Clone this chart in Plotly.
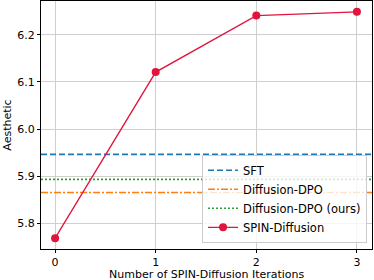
import plotly.graph_objects as go

iters = [0, 1, 2, 3]
spin = [5.768, 6.121, 6.241, 6.249]
sft = 5.946
dpo = 5.865
dpo_ours = 5.893
xticks = [0, 1, 2, 3]
yticks = [5.8, 5.9, 6.0, 6.1, 6.2]

xr = [-0.14, 3.15]
fig = go.Figure()
fig.add_trace(go.Scatter(x=xr, y=[sft, sft], mode="lines", name="SFT",
                         line=dict(color="#1f77b4", width=1.6, dash="6px,3px")))
fig.add_trace(go.Scatter(x=xr, y=[dpo, dpo], mode="lines", name="Diffusion-DPO",
                         line=dict(color="#ff7f0e", width=1.6, dash="7px,2px,2px,2px")))
fig.add_trace(go.Scatter(x=xr, y=[dpo_ours, dpo_ours], mode="lines", name="Diffusion-DPO (ours)",
                         line=dict(color="#2ca02c", width=1.6, dash="2px,2px")))
fig.add_trace(go.Scatter(x=iters, y=spin, mode="lines+markers", name="SPIN-Diffusion",
                         line=dict(color="#e0143c", width=1.3),
                         marker=dict(color="#e0143c", size=8)))

fig.update_layout(
    width=374, height=280,
    margin=dict(l=41, r=2, t=1, b=31, autoexpand=False),
    paper_bgcolor="white", plot_bgcolor="white",
    font=dict(family="DejaVu Sans", size=11, color="black"),
    showlegend=True,
    legend=dict(x=0.985, y=0.025, xanchor="right", yanchor="bottom",
                bgcolor="rgba(255,255,255,0.8)", bordercolor="#cccccc", borderwidth=1,
                font=dict(size=11.5), tracegroupgap=0, itemwidth=30),
    annotations=[dict(text="Number of SPIN-Diffusion Iterations", xref="paper", yref="paper",
                      x=0.5, y=-0.101, xanchor="center", yanchor="middle", showarrow=False,
                      font=dict(size=11))],
)
fig.update_xaxes(range=xr, tickvals=xticks, showgrid=True, gridcolor="#cfcfcf", gridwidth=1,
                 showline=True, linecolor="black", linewidth=1, mirror=True,
                 ticks="outside", ticklen=3, tickcolor="black", zeroline=False,
                 tickfont=dict(size=11), automargin=False)
fig.update_yaxes(range=[5.745, 6.272], tickvals=yticks, tickformat=".1f", showgrid=True,
                 gridcolor="#cfcfcf", gridwidth=1,
                 showline=True, linecolor="black", linewidth=1, mirror=True,
                 ticks="outside", ticklen=3, tickcolor="black", zeroline=False,
                 title=dict(text="Aesthetic", standoff=3, font=dict(size=11)),
                 tickfont=dict(size=11), automargin=True)
fig.write_html("out.html", config={"displayModeBar": False},
               post_script="document.body.style.margin='0';")
